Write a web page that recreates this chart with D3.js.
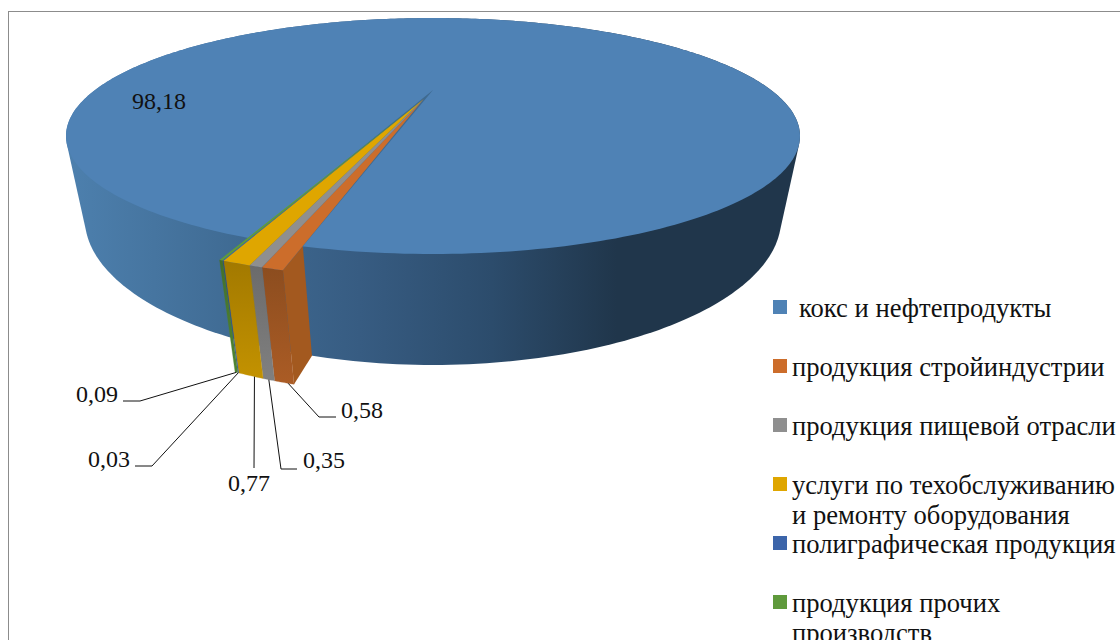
<!DOCTYPE html>
<html>
<head>
<meta charset="utf-8">
<script src="https://cdn.jsdelivr.net/npm/d3@7"></script>
<style>
  html, body { margin: 0; padding: 0; background: #fff; overflow: hidden; }
  text { font-family: "Liberation Serif", serif; font-size: 24px; fill: #111; white-space: pre; }
  .legend-text { font-size: 26.6px; }
</style>
</head>
<body>
<div id="chart"></div>
<script>
// Data
const categories = ['кокс и нефтепродукты', 'продукция стройиндустрии', 'продукция пищевой отрасли',
  'услуги по техобслуживанию', 'полиграфическая продукция', 'продукция прочих']
const categoriesSecondLine = ['', '', '', 'и ремонту оборудования', '', 'производств']
const values = [98.18, 0.58, 0.35, 0.77, 0.03, 0.09]
const valueLabels = ['98,18', '0,58', '0,35', '0,77', '0,03', '0,09']

// Styles
const topColors = ['#4f82b5', '#cc6d2b', '#8f8f8f', '#dfa600', '#3c65aa', '#5f9a3c']
const outerDark = ['#2f5578', '#8c4d1f', '#6b6b6b', '#a27900', '#2a4a80', '#44702a']
const outerLight = ['#2f5578', '#ab5c25', '#808080', '#c39200', '#32569a', '#4f8432']

// Dimensions
const dimensions = { width: 1120, height: 640 }

// 3d look of the pie: a disc seen in perspective
const firstSliceAngle = 200.4 * Math.PI / 180
const tilt = -0.39        // where the disc centre lands inside the ellipse
const explode = 0.09      // how far the small slices are pulled out
const vanish = [433, 1803]

const xScale = d3.scaleLinear().domain([-1, 1]).range([66, 800])
const yScale = d3.scaleLinear().domain([-1, 1]).range([18, 254])
// bottom disc size relative to the top one, changes with the screen y of the point
const depthScale = d3.scaleLinear().domain([168, 268]).range([0.943, 0.926])

function projectTop(u, v) {
  const k = 1 + tilt * v
  return [xScale(u * Math.sqrt(1 - tilt * tilt) / k), yScale((v + tilt) / k)]
}
function toBottom(p) {
  const s = depthScale(p[1])
  return [vanish[0] + (p[0] - vanish[0]) * s, vanish[1] + (p[1] - vanish[1]) * s]
}
function onDisc(angle, r) {
  return projectTop(r * Math.sin(angle), -r * Math.cos(angle))
}

const slices = d3.pie().sort(null).startAngle(firstSliceAngle).endAngle(firstSliceAngle + 2 * Math.PI)(values)

const svg = d3.select('#chart')
  .append('svg')
  .attr('width', dimensions.width)
  .attr('height', dimensions.height)
  .style('display', 'block')

const line = d3.line()
const closedLine = d3.line().curve(d3.curveLinearClosed)
const circleAngles = d3.range(0, 2 * Math.PI, Math.PI / 180)

// frame of the chart area, runs off the page
svg.append('rect')
  .attr('x', 8.5)
  .attr('y', 11.5)
  .attr('width', 1300)
  .attr('height', 900)
  .attr('fill', 'none')
  .attr('stroke', '#8c8c8c')

// gradients
const defs = svg.append('defs')
const wallGradient = defs.append('linearGradient')
  .attr('id', 'wall')
  .attr('gradientUnits', 'userSpaceOnUse')
  .attr('x1', 66).attr('x2', 800).attr('y1', 0).attr('y2', 0)
const wallStops = [[0, '#4d80ae'], [0.24, '#3f6a92'], [0.4, '#375c82'], [0.58, '#2c4c6c'], [0.75, '#20364b'], [1, '#20364b']]
wallGradient.selectAll('stop')
  .data(wallStops)
  .join('stop')
  .attr('offset', d => d[0])
  .attr('stop-color', d => d[1])

slices.forEach((s, i) => {
  const g = defs.append('linearGradient')
    .attr('id', 'outer' + i)
    .attr('x1', 0).attr('x2', 0).attr('y1', 0).attr('y2', 1)
  g.append('stop').attr('offset', 0).attr('stop-color', outerDark[i])
  g.append('stop').attr('offset', 1).attr('stop-color', outerLight[i])
})

// side wall of the whole pie
const rim = circleAngles.map(a => onDisc(a, 1))
svg.append('path')
  .attr('d', closedLine(d3.polygonHull(rim.concat(rim.map(toBottom)))))
  .attr('fill', 'url(#wall)')

// top of the big slice
svg.append('path')
  .attr('d', closedLine(rim))
  .attr('fill', topColors[0])

// notch left by the pulled out slices
const small = slices.slice(1)
const groupStart = small[0].startAngle
const groupEnd = small[small.length - 1].endAngle
const groupMid = (groupStart + groupEnd) / 2
const notchAngles = d3.range(groupStart, groupEnd, 0.01)
svg.append('path')
  .attr('d', closedLine([projectTop(0, 0)].concat(notchAngles.map(a => onDisc(a, 1)))))
  .attr('fill', '#3f6a90')

// right side face of the first small slice, seen through the notch
const cornerTop = onDisc(groupStart, 1 + explode)
const notchTop = onDisc(groupStart, 1)
svg.append('path')
  .attr('d', closedLine([cornerTop, toBottom(cornerTop), toBottom(notchTop), notchTop]))
  .attr('fill', '#a3591f')

// outer faces and tops of the small slices, pulled out together
const apex = onDisc(groupMid, explode)
small.forEach(s => {
  const arc = d3.range(0, 1.001, 0.1).map(t => onDisc(s.startAngle + (s.endAngle - s.startAngle) * t, 1 + explode))
  svg.append('path')
    .attr('d', closedLine(arc.concat(arc.map(toBottom).reverse())))
    .attr('fill', 'url(#outer' + s.index + ')')
    .attr('stroke', 'url(#outer' + s.index + ')')
    .attr('stroke-width', 0.3)
  svg.append('path')
    .attr('d', closedLine([apex].concat(arc)))
    .attr('fill', topColors[s.index])
})

// data labels, leader lines start on the bottom edge of their slice
const labelLayout = [
  { x: 132, y: 109 },
  { x: 341, y: 418, elbow: [[319, 417], [336, 417]], t: 0.3 },
  { x: 303, y: 468, elbow: [[281, 469], [297, 469]], t: 0.5 },
  { x: 228, y: 491, elbow: [[254, 468]], t: 0.35 },
  { x: 88, y: 467, elbow: [[152, 466], [135, 466]], t: 0.5 },
  { x: 76, y: 402, elbow: [[140, 401], [123, 401]], t: 0.5 }
]

slices.forEach((s, i) => {
  const layout = labelLayout[i]
  if (layout.elbow) {
    const a = s.startAngle + (s.endAngle - s.startAngle) * layout.t
    const start = toBottom(onDisc(a, 1 + explode))
    svg.append('path')
      .attr('d', line([start].concat(layout.elbow)))
      .attr('fill', 'none')
      .attr('stroke', '#111')
      .attr('stroke-width', 1)
  }
  svg.append('text')
    .attr('x', layout.x)
    .attr('y', layout.y)
    .text(valueLabels[i])
})

// legend
const legendY = d3.scaleLinear().domain([0, 5]).range([317, 612])
const legend = svg.append('g')
  .selectAll('g')
  .data(categories)
  .join('g')
  .attr('transform', (d, i) => `translate(773,${legendY(i)})`)

legend.append('rect')
  .attr('x', 0)
  .attr('y', -17)
  .attr('width', 14)
  .attr('height', 14)
  .attr('fill', (d, i) => topColors[i])

legend.append('text')
  .attr('class', 'legend-text')
  .attr('x', (d, i) => i === 0 ? 26 : 19)
  .attr('y', 0)
  .text(d => d)

legend.append('text')
  .attr('class', 'legend-text')
  .attr('x', 19)
  .attr('y', 30)
  .text((d, i) => categoriesSecondLine[i])
</script>
</body>
</html>
